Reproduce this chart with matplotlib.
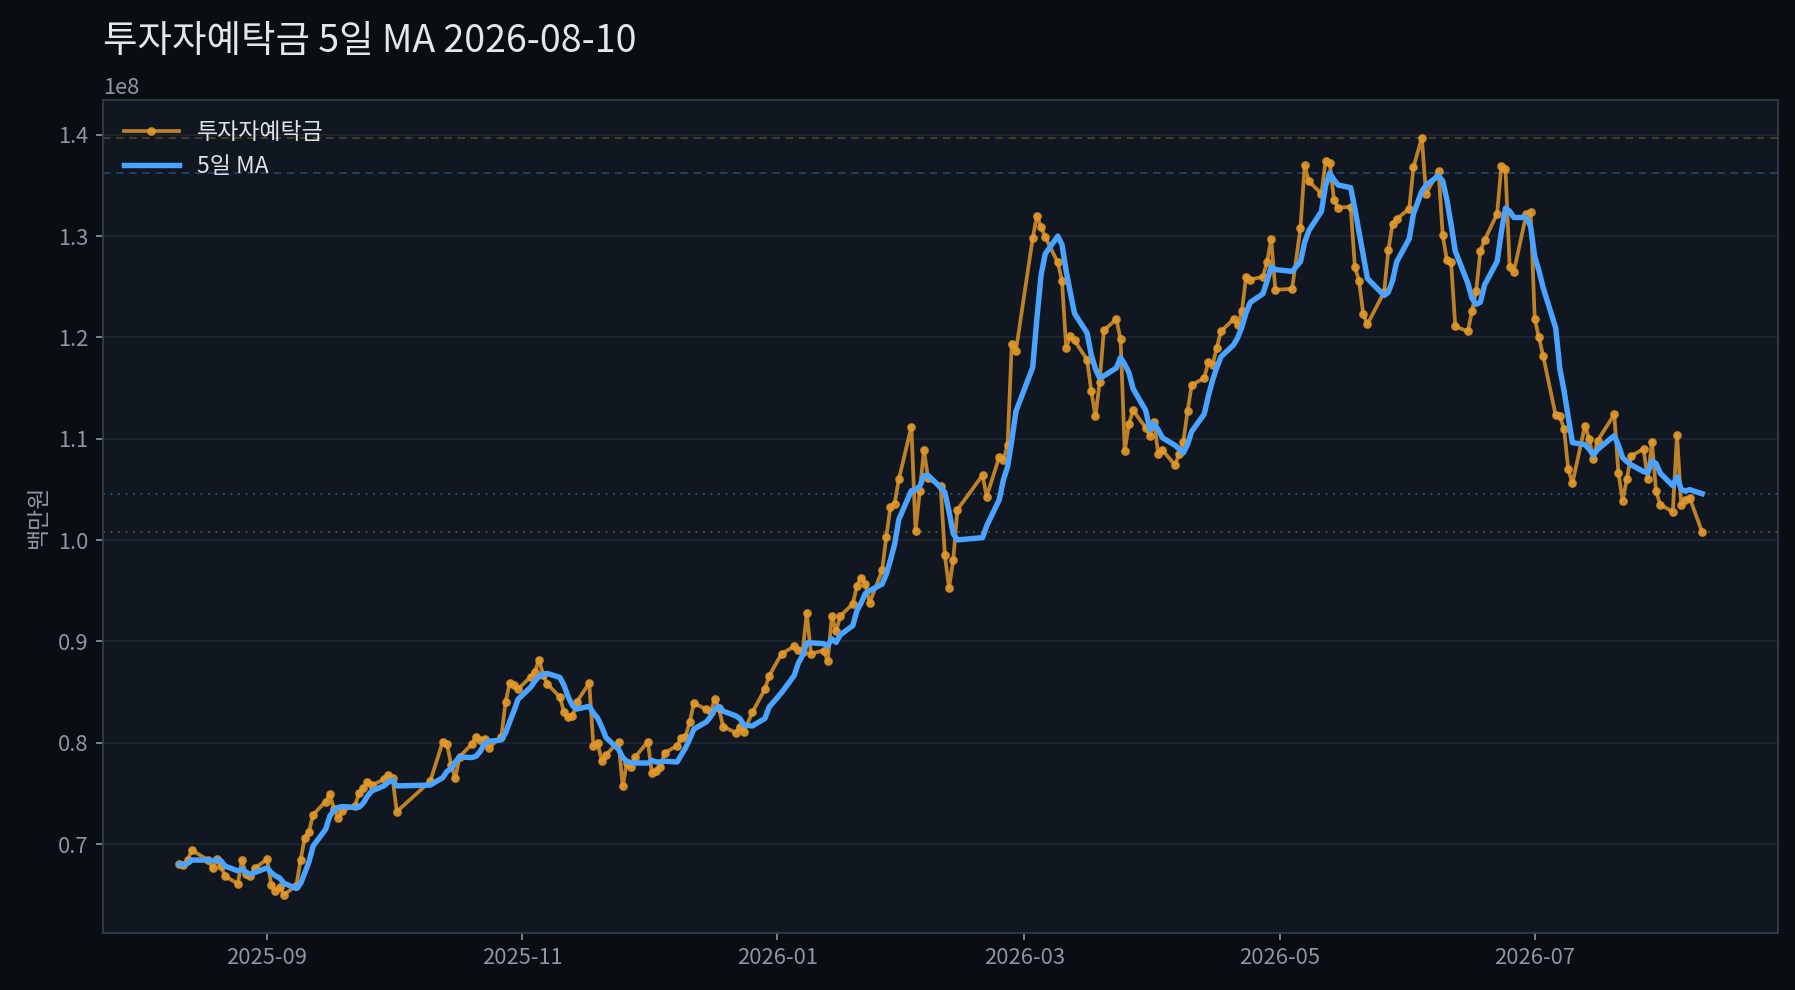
import numpy as np
import pandas as pd
import matplotlib
matplotlib.use("Agg")
import matplotlib.pyplot as plt
import matplotlib.dates as mdates

plt.rcParams['font.family'] = ['Noto Sans CJK KR', 'DejaVu Sans']
plt.rcParams['axes.unicode_minus'] = False

# KRX closed days inside the window
holidays = ['2025-08-15', '2025-10-03', '2025-10-06', '2025-10-07', '2025-10-08',
            '2025-10-09', '2025-12-25', '2025-12-31', '2026-01-01', '2026-02-16',
            '2026-02-17', '2026-02-18', '2026-03-02', '2026-05-01', '2026-05-05',
            '2026-05-25', '2026-06-03', '2026-07-17']

# investor deposits, units of 1e8 (백만원)
aug25 = [0.680, 0.679, 0.684, 0.694, 0.684, 0.676, 0.685, 0.678, 0.668, 0.661,
         0.684, 0.670, 0.668, 0.676]
sep25 = [0.685, 0.660, 0.654, 0.658, 0.650, 0.659, 0.684, 0.706, 0.712, 0.729,
         0.742, 0.749, 0.735, 0.726, 0.733, 0.738, 0.750, 0.755, 0.761, 0.758,
         0.764, 0.768]
oct25 = [0.765, 0.732, 0.762, 0.801, 0.799, 0.778, 0.765, 0.786, 0.799, 0.806,
         0.803, 0.804, 0.795, 0.806, 0.840, 0.859, 0.857, 0.853]
nov25 = [0.865, 0.870, 0.882, 0.867, 0.858, 0.845, 0.830, 0.825, 0.826, 0.840,
         0.859, 0.797, 0.800, 0.782, 0.788, 0.801, 0.757, 0.780, 0.776, 0.786]
dec25 = [0.801, 0.770, 0.772, 0.776, 0.790, 0.797, 0.805, 0.806, 0.820, 0.839,
         0.833, 0.830, 0.843, 0.834, 0.816, 0.810, 0.816, 0.811, 0.830, 0.853,
         0.866]
jan26 = [0.888, 0.895, 0.892, 0.890, 0.928, 0.888, 0.891, 0.881, 0.925, 0.910,
         0.925, 0.937, 0.955, 0.963, 0.957, 0.938, 0.970, 1.003, 1.033, 1.036,
         1.060]
feb26 = [1.112, 1.009, 1.048, 1.089, 1.061, 1.053, 0.985, 0.953, 0.980, 1.030,
         1.064, 1.043, 1.082, 1.079, 1.094, 1.194, 1.187]
mar26 = [1.298, 1.320, 1.309, 1.299, 1.274, 1.256, 1.190, 1.201, 1.197, 1.178,
         1.147, 1.122, 1.156, 1.207, 1.218, 1.198, 1.088, 1.115, 1.128, 1.111,
         1.103]
apr26 = [1.117, 1.085, 1.089, 1.074, 1.085, 1.097, 1.127, 1.153, 1.160, 1.176,
         1.173, 1.190, 1.206, 1.218, 1.212, 1.226, 1.260, 1.257, 1.260, 1.274,
         1.297, 1.247]
may26 = [1.248, 1.308, 1.370, 1.354, 1.342, 1.374, 1.372, 1.336, 1.328, 1.329,
         1.270, 1.256, 1.223, 1.213, 1.245, 1.286, 1.312, 1.317]
jun26 = [1.327, 1.368, 1.397, 1.342, 1.364, 1.301, 1.276, 1.274, 1.211, 1.206,
         1.226, 1.246, 1.285, 1.296, 1.322, 1.369, 1.366, 1.270, 1.265, 1.322,
         1.324]
jul26 = [1.218, 1.200, 1.182, 1.123, 1.122, 1.110, 1.070, 1.056, 1.113, 1.100,
         1.080, 1.098, 1.124, 1.066, 1.039, 1.060, 1.083, 1.090, 1.060, 1.097,
         1.048, 1.035]
aug26 = [1.028, 1.104, 1.035, 1.040, 1.042, 1.008]

values = np.array(aug25 + sep25 + oct25 + nov25 + dec25 + jan26 + feb26 +
                  mar26 + apr26 + may26 + jun26 + jul26 + aug26) * 1e8
dates = pd.bdate_range('2025-08-11', '2026-08-10', freq='C', holidays=holidays)

deposit = pd.Series(values, index=dates)
ma5 = deposit.rolling(5, min_periods=1).mean()

ORANGE = '#e49a2b'
BLUE = '#4aa3ff'
FIG_BG = '#0a0d12'
AX_BG = '#111721'
TXT = '#8d97a5'

fig = plt.figure(figsize=(11.97, 6.6), dpi=150, facecolor=FIG_BG)
ax = fig.add_axes([0.0574, 0.058, 0.933, 0.841], facecolor=AX_BG)

ax.plot(deposit.index, deposit.values, color=ORANGE, lw=1.8, alpha=0.82,
        marker='o', ms=3.2, mfc=ORANGE, mec=ORANGE, label='투자자예탁금', zorder=3)
ax.plot(ma5.index, ma5.values, color=BLUE, lw=2.6, label='5일 MA', zorder=4)

ax.axhline(deposit.max(), color=ORANGE, lw=0.9, ls=(0, (4, 3)), alpha=0.3, zorder=2)
ax.axhline(ma5.max(), color=BLUE, lw=0.9, ls=(0, (4, 3)), alpha=0.3, zorder=2)
ax.axhline(ma5.iloc[-1], color=BLUE, lw=0.9, ls=(0, (1, 3)), alpha=0.4, zorder=2)
ax.axhline(deposit.iloc[-1], color=ORANGE, lw=0.9, ls=(0, (1, 3)), alpha=0.4, zorder=2)

ax.grid(True, axis='y', color='#1f2733', lw=0.8)
ax.grid(False, axis='x')
ax.set_axisbelow(True)

ax.xaxis.set_major_locator(mdates.MonthLocator(bymonth=[1, 3, 5, 7, 9, 11]))
ax.xaxis.set_major_formatter(mdates.DateFormatter('%Y-%m'))

for s in ax.spines.values():
    s.set_color('#2f3b4a')
    s.set_linewidth(0.9)
ax.tick_params(colors=TXT, labelsize=10.5, length=3.5, width=0.8)
ax.yaxis.get_offset_text().set_color(TXT)
ax.yaxis.get_offset_text().set_fontsize(10.5)

ax.set_ylabel('백만원', color=TXT, fontsize=11)
ax.set_title('투자자예탁금 5일 MA 2026-08-10', loc='left', color='#e3e6ea',
             fontsize=18, fontweight='light', pad=23)

leg = ax.legend(loc='upper left', frameon=False, fontsize=11, handlelength=2.4)
for t in leg.get_texts():
    t.set_color('#dfe3e8')

fig.savefig('out.png', dpi=150, facecolor=FIG_BG)
